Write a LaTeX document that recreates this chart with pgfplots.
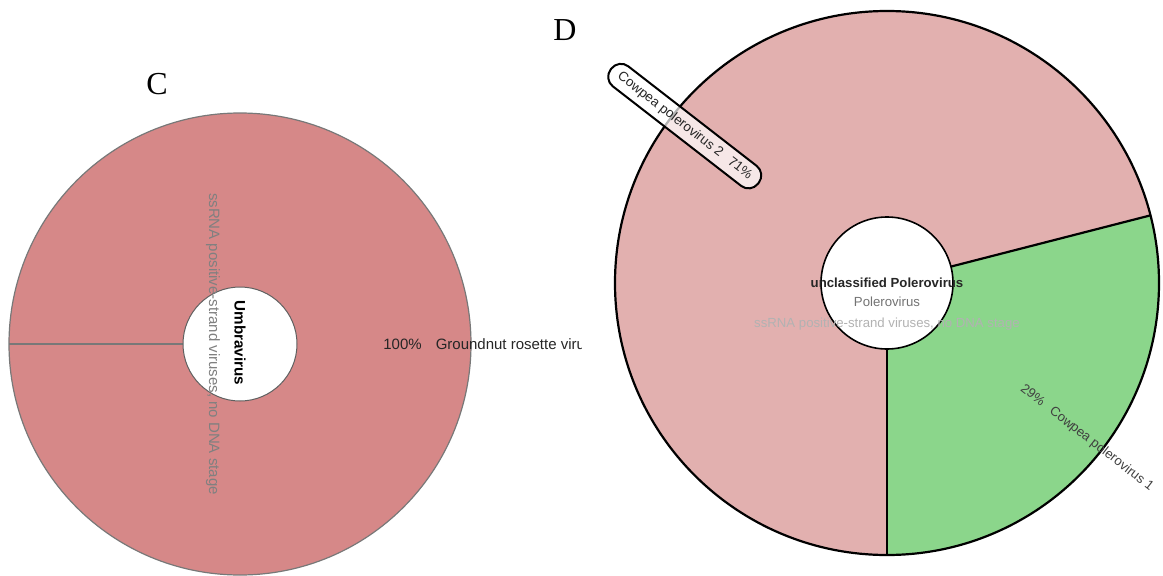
\documentclass[border=0pt]{standalone}
\usepackage{pgfplots}
\pgfplotsset{compat=1.18}
\usepackage{pgfplotstable}
\usetikzlibrary{calc}
\usepackage{fontspec}
\setmainfont{Liberation Sans}
\newfontfamily\panelfont{Liberation Serif}

\definecolor{umbrared}{RGB}{214,136,136}
\definecolor{polepink}{RGB}{226,176,175}
\definecolor{polegreen}{RGB}{139,214,139}
\definecolor{rimgray}{RGB}{120,120,120}

% Krona-style read shares (percent)
\pgfplotstableread{
value label
100 {Groundnut rosette virus}
}\pieC
\pgfplotstableread{
value label
29 {Cowpea polerovirus 1}
71 {Cowpea polerovirus 2}
}\pieD

\begin{document}
\begin{tikzpicture}
% one drawing unit = 0.5pt
\clip (0,0) rectangle (581.5pt,287.5pt);

\pgfplotstablegetelem{0}{value}\of\pieC\edef\cval{\pgfplotsretval}
\pgfplotstablegetelem{0}{value}\of\pieD\edef\greenval{\pgfplotsretval}
\pgfplotstablegetelem{1}{value}\of\pieD\edef\pinkval{\pgfplotsretval}
\pgfmathsetmacro\cStart{180}
\pgfmathsetmacro\cEnd{180+3.6*\cval}
\pgfmathsetmacro\gStart{-90}
\pgfmathsetmacro\gEnd{-90+3.6*\greenval}
\pgfmathsetmacro\gMid{-90+1.8*\greenval}
\pgfmathsetmacro\pEnd{\gEnd+3.6*\pinkval}
\pgfmathsetmacro\pMid{\gEnd+1.8*\pinkval}

\begin{axis}[
  at={(0,0)}, anchor=south west,
  x=0.5pt, y=0.5pt,
  xmin=0, xmax=1163, ymin=0, ymax=575,
  hide axis, clip=false,
]
% ---------- C: Umbravirus ----------
\fill[umbrared] (axis cs:240,231) -- ++(\cStart:115.5pt)
  arc[start angle=\cStart, end angle=\cEnd, radius=115.5pt] -- cycle;
\draw[rimgray, line width=0.6pt] (axis cs:240,231) circle[radius=115.5pt];
\draw[rimgray, line width=0.6pt] (axis cs:240,231) ++(\cStart:28.5pt) -- ++(\cStart:87pt);
\fill[white] (axis cs:240,231) circle[radius=28.5pt];
\draw[rimgray!80!black, line width=0.5pt] (axis cs:240,231) circle[radius=28.5pt];

\node[rotate=-90, text=gray, font=\fontsize{7.5}{9}\selectfont]
  at (axis cs:213,231) {ssRNA positive-strand viruses, no DNA stage};
\node[rotate=-90, text=black, font=\fontsize{7.6}{9}\selectfont\bfseries]
  at (axis cs:240,232) {Umbravirus};
\begin{scope}
  \clip (axis cs:370,200) rectangle (axis cs:581,260);
  \node[anchor=west, inner sep=0pt, text=black!85, font=\fontsize{7.5}{9}\selectfont]
    at (axis cs:383,231) {100\%\hspace{7pt}Groundnut rosette virus};
\end{scope}
\node[font=\panelfont\fontsize{16}{19}\selectfont] at (axis cs:157,491) {C};

% ---------- D: unclassified Polerovirus ----------
\fill[polegreen] (axis cs:887,292) -- ++(\gStart:136pt)
  arc[start angle=\gStart, end angle=\gEnd, radius=136pt] -- cycle;
\fill[polepink] (axis cs:887,292) -- ++(\gEnd:136pt)
  arc[start angle=\gEnd, end angle=\pEnd, radius=136pt] -- cycle;
\draw[black, line width=1.1pt] (axis cs:887,292) ++(\gStart:33pt) -- ++(\gStart:103pt);
\draw[black, line width=1.1pt] (axis cs:887,292) ++(\gEnd:33pt) -- ++(\gEnd:103pt);
\draw[black, line width=1.1pt] (axis cs:887,292) circle[radius=136pt];
\fill[white] (axis cs:887,292) circle[radius=33pt];
\draw[black, line width=0.8pt] (axis cs:887,292) circle[radius=33pt];

\node[text=black!85, font=\fontsize{6.6}{8}\selectfont\bfseries]
  at (axis cs:887,292) {unclassified Polerovirus};
\node[text=black!55, font=\fontsize{6.6}{8}\selectfont]
  at (axis cs:887,273) {Polerovirus};
\node[text=black!30, font=\fontsize{6.6}{8}\selectfont]
  at (axis cs:887,251) {ssRNA positive-strand viruses, no DNA stage};

\node[rotate=\gMid, text=black!75, font=\fontsize{6.6}{8}\selectfont]
  at ($(axis cs:887,292)+(\gMid:126.5pt)$) {29\%\hspace{5pt}Cowpea polerovirus 1};
\node[rotate=\pMid-180, draw=black, line width=1pt, fill=white, fill opacity=0.7,
      text opacity=1, rounded corners=6pt, inner xsep=5pt, inner ysep=3.2pt,
      text=black!85, font=\fontsize{6.7}{8}\selectfont]
  at ($(axis cs:887,292)+(\pMid:128pt)$) {Cowpea polerovirus 2\hspace{5pt}71\%};
\node[font=\panelfont\fontsize{16}{19}\selectfont] at (axis cs:565,545) {D};
\end{axis}
\end{tikzpicture}
\end{document}
